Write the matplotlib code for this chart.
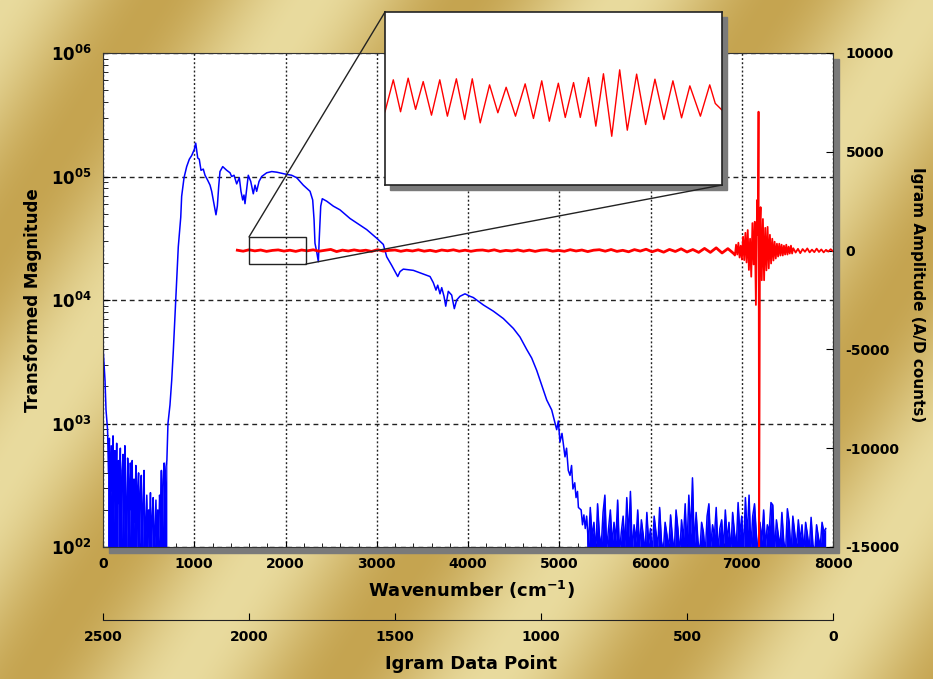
import numpy as np
import matplotlib
matplotlib.use('Agg')
import matplotlib.pyplot as plt
from matplotlib.patches import Rectangle, ConnectionPatch
from matplotlib.ticker import MultipleLocator, NullFormatter, LogLocator

plt.rcParams['font.family'] = ['DejaVu Sans']
plt.rcParams['font.weight'] = 'bold'
plt.rcParams['axes.unicode_minus'] = False

W, H = 933, 679

# ---- transformed spectrum (blue), values are log10(magnitude) ----
wn_start = [0, 22, 33, 44]
log_start = [3.62, 3.35, 3.11, 3.00]

# noise floor under the band, 50..700 cm-1 every 10
wn_low = list(range(50, 701, 10))
log_low = [2.95, 2.60, 2.88, 2.30, 2.82, 2.45, 2.90, 2.20, 2.78,
           2.50, 2.84, 1.90, 2.70, 2.35, 2.80, 1.85, 2.62, 2.75, 2.10,
           2.82, 2.40, 1.80, 2.72, 2.55, 2.05, 2.68,
           2.30, 2.70, 1.85, 2.55, 2.20, 2.66, 1.80, 2.48, 2.60, 2.00,
           2.45, 2.58, 1.85, 2.35, 2.62, 1.95,
           2.20, 2.42, 1.80, 2.30, 2.10, 2.44, 1.85, 2.25, 2.40, 1.90,
           2.15, 2.38, 1.80, 2.30, 2.05, 2.42,
           2.30, 2.62, 2.05, 2.55, 2.68, 2.40, 2.65, 2.70]

# the band itself
wn_band = [712, 734, 753, 770, 789, 800, 808, 825, 852, 862,
           888, 917, 946, 972, 1001, 1016, 1027, 1038, 1055, 1074,
           1099, 1118, 1147, 1173, 1191, 1216, 1238, 1253, 1268, 1282,
           1312, 1356, 1392, 1410, 1436, 1465, 1494, 1512, 1531, 1545,
           1556, 1575, 1592, 1619, 1647, 1666, 1684, 1710, 1739, 1794,
           1849, 1904, 1995, 2068, 2123, 2195, 2269, 2298, 2313, 2323,
           2342, 2360, 2370, 2386, 2403, 2452, 2524, 2597, 2707, 2890,
           3000, 3072, 3109, 3164, 3200, 3230, 3255, 3291, 3401, 3510,
           3584, 3620, 3649, 3668, 3693, 3712, 3737, 3756, 3784, 3821,
           3850, 3876, 3912, 3967, 4022, 4058, 4168, 4277, 4387, 4497,
           4570, 4643, 4698, 4753, 4808, 4863, 4917, 4972, 4990, 5008,
           5030, 5063, 5080, 5099, 5118, 5135, 5150, 5170, 5184, 5200,
           5210, 5240, 5255, 5270, 5285]
log_band = [3.00, 3.15, 3.35, 3.58, 3.88, 4.05, 4.19, 4.43, 4.67, 4.84,
            4.99, 5.08, 5.14, 5.17, 5.22, 5.27, 5.21, 5.15, 5.14, 5.05,
            5.06, 5.01, 4.97, 4.93, 4.88, 4.78, 4.69, 4.76, 4.92, 5.04,
            5.08, 5.05, 5.03, 5.00, 5.01, 4.94, 4.99, 4.88, 4.81, 4.85,
            4.78, 4.90, 5.01, 4.96, 4.86, 4.93, 4.88, 4.96, 5.00, 5.03,
            5.04, 5.035, 5.02, 5.01, 4.99, 4.93, 4.88, 4.81, 4.65, 4.46,
            4.39, 4.31, 4.50, 4.76, 4.82, 4.80, 4.76, 4.73, 4.66, 4.57,
            4.50, 4.45, 4.35, 4.28, 4.23, 4.19, 4.23, 4.25, 4.24, 4.21,
            4.19, 4.14, 4.08, 4.12, 4.05, 4.10, 4.03, 3.95, 4.07, 4.04,
            3.93, 4.00, 4.03, 4.05, 4.03, 4.02, 3.96, 3.91, 3.85, 3.77,
            3.70, 3.60, 3.53, 3.43, 3.31, 3.19, 3.11, 2.95, 3.02, 2.85,
            2.92, 2.73, 2.80, 2.62, 2.58, 2.66, 2.47, 2.52, 2.40, 2.45,
            2.32, 2.30, 2.18, 2.26, 2.15]

# noise floor above the band, 5300..7920 every 20
wn_high = list(range(5300, 7921, 20))
log_high = [2.25, 2.02, 2.32, 2.08, 2.20, 1.95, 2.35, 2.10, 2.00, 2.28, 2.42, 1.98, 2.15, 2.30, 2.02,
            2.20, 2.05, 2.38, 1.95, 2.12, 2.25, 2.00, 2.40, 2.08, 2.45, 1.96, 2.18, 2.04, 2.30, 1.98,
            2.22, 2.10, 1.95, 2.28, 2.03, 2.15, 1.94, 2.25, 2.12, 2.00, 2.32, 2.05, 1.96, 2.20, 2.10,
            1.98, 2.26, 2.08, 1.95, 2.30, 2.15, 1.94, 2.22, 2.05, 2.35, 1.98, 2.42, 2.10, 2.56, 2.00,
            2.28, 2.05, 1.95, 2.20, 2.12, 1.94, 2.25, 2.35, 2.00, 2.18, 2.08, 2.32, 1.96, 2.15, 2.22,
            1.98, 2.30, 2.05, 2.20, 1.95, 2.28, 2.12, 2.00, 2.36, 2.10, 2.25, 1.96, 2.40, 2.08, 2.42,
            1.98, 2.25, 2.35, 2.10, 1.95, 2.20, 2.05, 2.30, 2.00, 2.18, 2.12, 2.36, 2.34, 1.96, 2.22,
            2.10, 2.00, 2.28, 2.05, 1.95, 2.31, 2.20, 1.94, 2.25, 2.12, 2.00, 2.22, 2.05, 2.18, 1.96,
            2.20, 2.10, 1.98, 2.24, 2.02, 1.95, 2.18, 2.08, 2.00, 2.20, 2.12, 2.15]

# ---- interferogram (red): igram data point vs A/D counts ----
pt_flat = list(range(2040, 339, -20))
amp_flat = [20, -30, 40, -15, 30, -40, 10, 35, -25, 20,
            -40, 30, -10, 40, -30, 15, 60, -50, 25, -20,
            35, -15, 20, -40, 45, -25, 10, 30, -35, 20,
            -20, 40, -30, 15, -45, 30, -10, 40, -30, 20,
            -35, 15, 30, -20, 40, -40, 10, -20, 35, -30,
            25, -40, 20, 40, -30, 10, -35, 45, -20, 30,
            -50, 20, 45, -30, 55, -40, 15, -60, 50, -25,
            70, -60, 35, -80, 60, -45, 90, -70, 55, -90,
            110, -90, 140, -120, 100, -150]
pt_burst = [336, 332, 328, 324, 320, 316, 312, 308, 304, 300,
            296, 292, 288, 284, 280, 276, 272, 268, 264, 260,
            257, 255, 253, 250, 248, 244, 240, 236, 232, 228,
            224, 220, 216, 212, 208, 204, 200, 196, 192, 188,
            184, 180, 176, 172, 168, 164, 160, 156, 152, 148,
            144, 140]
amp_burst = [-250, 300, -200, 400, -350, 250, -450, 700, -480, 900,
             -600, 1040, -980, 600, -1320, 1390, -700, 1460, -2750, 2560,
             800, 7030, -16500, 1500, 2200, -1500, 1600, -1500, 1150, -1000,
             1200, -900, 800, -650, 600, -500, 450, -400, 350, -300,
             350, -250, 300, -250, 250, -200, 300, -200, 200, -150,
             250, -150]
pt_tail = list(range(136, -1, -8))
amp_tail = [120, -100, 90, -130, 80, -60, 110, -90, 50, -80,
            100, -70, 60, -90, 40, -50, 70, -30]

# zoomed part shown in the inset (igram points 2000..1805)
inset_pt = [2000, 1995.2, 1991.0, 1986.6, 1982.3, 1977.9, 1973.1, 1968.3, 1963.9, 1958.7,
            1953.9, 1949.5, 1944.9, 1939.5, 1934.7, 1929.9, 1924.5, 1918.9, 1914.1, 1909.3,
            1904.9, 1899.7, 1895.7, 1890.9, 1887.0, 1882.2, 1878.0, 1873.6, 1868.8, 1864.2,
            1859.8, 1854.4, 1849.2, 1843.8, 1838.6, 1833.4, 1828.4, 1823.6, 1817.5, 1812.1,
            1808.9, 1805.0]
inset_amp = [-100, 153, -100, 166, -81, 139, -127, 153, -135, 161,
             -161, 161, -188, 113, -108, 94, -135, 121, -153, 145,
             -175, 126, -145, 131, -145, 171, -214, 201, -294, 232,
             -246, 198, -201, 158, -161, 145, -148, 105, -135, 113,
             -34, -87]
zoom_box = (1805, 2000, -680, 690)

y_ticks = [1e2, 1e3, 1e4, 1e5, 1e6]
y_labels = ['10$^{02}$', '10$^{03}$', '10$^{04}$', '10$^{05}$', '10$^{06}$']


def box(x0, y0, x1, y1):
    # pixel box (top-left origin) -> figure fraction
    return [x0 / W, 1 - y1 / H, (x1 - x0) / W, (y1 - y0) / H]


fig = plt.figure(figsize=(W / 100, H / 100), dpi=100)

# gold background
bg = fig.add_axes([0, 0, 1, 1], zorder=-10)
yy, xx = np.mgrid[0:H, 0:W]
t = 0.5 + 0.5 * np.cos(2 * np.pi * (xx / 310.0 + yy / 480.0))
light = np.array([233, 219, 158]) / 255
dark = np.array([197, 164, 80]) / 255
img = light * t[..., None] + dark * (1 - t[..., None])
bg.imshow(img, aspect='auto', extent=[0, 1, 0, 1])
bg.axis('off')

# drop shadows
fig.add_artist(Rectangle((109 / W, 1 - 553 / H), 730 / W, 494 / H,
                         transform=fig.transFigure, color='#7a7a7a', zorder=-5))
fig.add_artist(Rectangle((390 / W, 1 - 190 / H), 337 / W, 173 / H,
                         transform=fig.transFigure, color='#7a7a7a', zorder=3))

# main axes: spectrum
ax = fig.add_axes(box(103, 53, 833, 547), zorder=0)
ax.plot(wn_start + wn_low + wn_band + wn_high,
        10 ** np.array(log_start + log_low + log_band + log_high),
        color='#0000ff', lw=1.1, zorder=2)
ax.fill_between(wn_low, 1, 10 ** np.array(log_low), color='#0000ff', lw=0, zorder=2)
ax.fill_between(wn_high, 1, 10 ** np.array(log_high), color='#0000ff', lw=0, zorder=2)
ax.set_xlim(0, 8000)
ax.set_yscale('log')
ax.set_ylim(1e2, 1e6)
ax.set_xticks(range(0, 8001, 1000))
ax.xaxis.set_minor_locator(MultipleLocator(200))
ax.set_yticks(y_ticks)
ax.set_yticklabels(y_labels)
ax.yaxis.set_minor_locator(LogLocator(base=10, subs=np.arange(2, 10)))
ax.yaxis.set_minor_formatter(NullFormatter())
ax.tick_params(axis='x', which='both', direction='in', top=False, labelsize=10, pad=7)
ax.tick_params(axis='x', which='major', length=4)
ax.tick_params(axis='x', which='minor', length=3)
ax.tick_params(axis='y', which='both', direction='in', right=False, labelsize=12, pad=8)
ax.tick_params(axis='y', which='major', length=5)
ax.tick_params(axis='y', which='minor', length=3.5)
ax.grid(axis='x', which='major', color='#222222', lw=1.0, ls=(0, (1.4, 1.6)))
ax.grid(axis='y', which='major', color='#222222', lw=1.0, ls=(0, (3.5, 2.8)))
for s in ax.spines.values():
    s.set_color('#333333')

# overlay axes: interferogram
ax_r = fig.add_axes(box(103, 53, 833, 547), zorder=1)
ax_r.patch.set_visible(False)
for s in ax_r.spines.values():
    s.set_visible(False)
ax_r.plot(pt_flat, amp_flat, color='#ff0000', lw=2.0)
ax_r.plot(pt_flat[-1:] + pt_burst + pt_tail, amp_flat[-1:] + amp_burst + amp_tail,
          color='#ff0000', lw=1.3)
ax_r.add_patch(Rectangle((zoom_box[0], zoom_box[2]), zoom_box[1] - zoom_box[0],
                         zoom_box[3] - zoom_box[2], fill=False, ec='#222222', lw=1.0, zorder=5))
ax_r.set_xlim(2500, 0)
ax_r.set_ylim(-15000, 10000)
ax_r.set_xticks([])
ax_r.yaxis.tick_right()
ax_r.set_yticks(range(-15000, 10001, 5000))
ax_r.tick_params(axis='y', direction='in', length=5, labelsize=10, pad=9)

# inset
ax_in = fig.add_axes(box(385, 12, 722, 185), zorder=4)
ax_in.plot(inset_pt, inset_amp, color='#ff0000', lw=1.0)
ax_in.set_xlim(zoom_box[1], zoom_box[0])
ax_in.set_ylim(zoom_box[2], zoom_box[3])
ax_in.set_xticks([])
ax_in.set_yticks([])
for s in ax_in.spines.values():
    s.set_color('#222222')
    s.set_linewidth(1.2)

for xa, xb in [((0, 1), (zoom_box[1], zoom_box[3])), ((1, 0), (zoom_box[0], zoom_box[2]))]:
    cp = ConnectionPatch(xyA=xa, coordsA=ax_in.transAxes, xyB=xb, coordsB=ax_r.transData,
                         color='#222222', lw=1.0, zorder=3.5)
    fig.add_artist(cp)

# secondary bottom axis: igram data point
ax_i = fig.add_axes(box(103, 600, 833, 620))
ax_i.patch.set_visible(False)
for k in ['top', 'left', 'right']:
    ax_i.spines[k].set_visible(False)
ax_i.spines['bottom'].set_color('#222222')
ax_i.set_xlim(2500, 0)
ax_i.set_xticks(range(2500, -1, -500))
ax_i.set_yticks([])
ax_i.tick_params(axis='x', direction='in', length=5, labelsize=10, pad=7)

fig.text(33 / W, 1 - 300 / H, 'Transformed Magnitude', rotation=90,
         ha='center', va='center', fontsize=12)
fig.text(917 / W, 1 - 295 / H, 'Igram Amplitude (A/D counts)', rotation=270,
         ha='center', va='center', fontsize=11)
fig.text(471 / W, 1 - 590 / H, r'Wavenumber (cm$^{\mathbf{-1}}$)',
         ha='center', va='center', fontsize=13)
fig.text(471 / W, 1 - 664 / H, 'Igram Data Point',
         ha='center', va='center', fontsize=13)

fig.savefig('out.png', dpi=100)
